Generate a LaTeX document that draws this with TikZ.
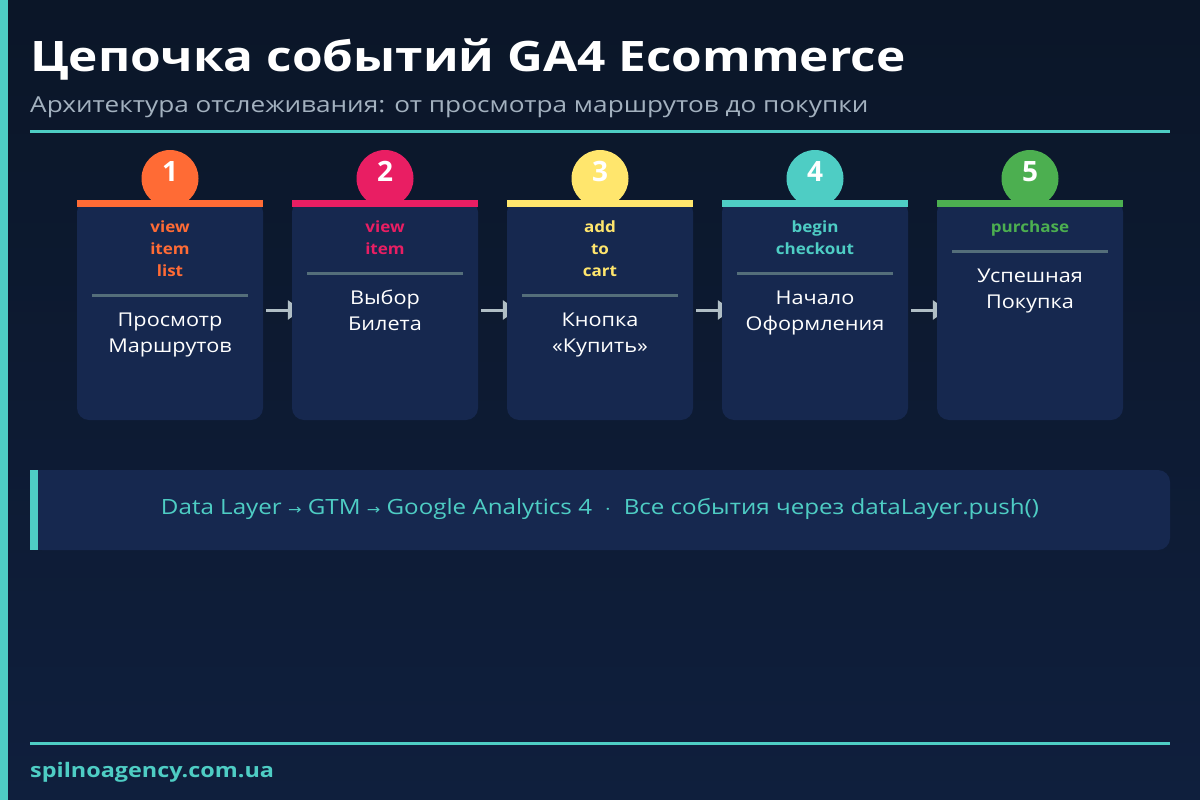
\documentclass[tikz,border=0pt]{standalone}
\usepackage{graphicx}
\usepackage{fontspec}
\setmainfont{Open Sans}
\newfontfamily\symfont{DejaVu Sans}
\usetikzlibrary{arrows.meta}
\definecolor{bgtop}{HTML}{0B1628}
\definecolor{bgbot}{HTML}{0F1F3D}
\definecolor{cardcol}{HTML}{16284F}
\definecolor{tealc}{HTML}{4ECDC4}
\definecolor{orangec}{HTML}{FF6B35}
\definecolor{pinkc}{HTML}{E91E63}
\definecolor{yellowc}{HTML}{FFE66D}
\definecolor{greenc}{HTML}{4CAF50}
\definecolor{subgray}{HTML}{A3B1BF}
\definecolor{sepcol}{HTML}{546E7A}
\definecolor{arrowcol}{HTML}{B0BEC5}
\newcommand\wide[2]{\scalebox{#1}[1]{#2}}
\pgfdeclarelayer{bg}
\pgfdeclarelayer{back}
\pgfsetlayers{bg,back,main}
\tikzset{
  cardbox/.style={rectangle, rounded corners=12pt, fill=cardcol, minimum width=186pt, minimum height=220pt, inner sep=0pt},
  numcirc/.style={circle, minimum size=57pt, inner sep=0pt},
  numtext/.style={anchor=base, inner sep=0pt, text=white, font=\bfseries\fontsize{28}{32}\selectfont},
  evtext/.style={anchor=base, inner sep=0pt, font=\bfseries\fontsize{15.5}{18}\selectfont},
  desctext/.style={anchor=base, inner sep=0pt, text=white, font=\fontsize{19}{22}\selectfont},
  sepline/.style={draw=sepcol, line width=3pt},
  flowarrow/.style={draw=arrowcol, line width=3pt, -{Triangle[length=14pt,width=19pt]}},
}
\newcommand\evcard[5]{%
  \pgfmathsetmacro\cx{170+215*(#1-1)}
  \node[cardbox] (card#1) at (\cx,310) {};
  \node[numcirc, fill=#2] (circ#1) at (\cx,178.5) {};
  \fill[#2] (card#1.north west) rectangle ++(186,7);
  \node[numtext] (num#1) at (\cx,181) {#1};
  \foreach \l [count=\k] in {#4} {\node[evtext, text=#2] (ev#1-\k) at (\cx,{232+22*(\k-1)}) {\wide{1.1}{\l}};}
  \pgfmathsetmacro\sy{251+22*(#3-1)}
  \draw[sepline] (\cx-78,\sy) -- (\cx+78,\sy);
  \foreach \l [count=\k] in {#5} {\node[desctext] (d#1-\k) at (\cx,{\sy+31+26*(\k-1)}) {\wide{1.14}{\l}};}
}
\begin{document}
\begin{tikzpicture}[x=1pt,y=-1pt]
\useasboundingbox (0,0) rectangle (1200,800);
\begin{pgfonlayer}{bg}
\shade[top color=bgtop, bottom color=bgbot] (0,0) rectangle (1200,800);
\fill[tealc] (0,0) rectangle (7.5,800);
\end{pgfonlayer}
\node[anchor=base west, inner sep=0pt, text=white, font=\bfseries\fontsize{42}{50}\selectfont] (title) at (30,72) {\wide{1.18}{Цепочка событий GA4 Ecommerce}};
\node[anchor=base west, inner sep=0pt, text=subgray, font=\fontsize{22}{26}\selectfont] (subtitle) at (30,113) {\wide{1.19}{Архитектура отслеживания: от просмотра маршрутов до покупки}};
\draw[tealc, line width=3pt] (30,131) -- (1170,131);

\evcard{1}{orangec}{3}{view,item,list}{Просмотр,Маршрутов}
\evcard{2}{pinkc}{2}{view,item}{Выбор,Билета}
\evcard{3}{yellowc}{3}{add,to,cart}{Кнопка,«Купить»}
\evcard{4}{tealc}{2}{begin,checkout}{Начало,Оформления}
\evcard{5}{greenc}{1}{purchase}{Успешная,Покупка}

\begin{pgfonlayer}{back}
\foreach \a/\b in {1/2,2/3,3/4,4/5}
  \draw[flowarrow] ([xshift=3pt]card\a.east) -- ([xshift=10pt]card\b.west);
\end{pgfonlayer}

\fill[cardcol, rounded corners=12pt] (30,470) rectangle (1170,550);
\fill[cardcol] (30,470) rectangle (60,550);
\fill[tealc] (30,470) rectangle (38,550);
\node[anchor=base, inner sep=0pt, text=tealc, font=\fontsize{21}{25}\selectfont] (info) at (600,514) {\wide{1.15}{Data Layer {\symfont\fontsize{14}{16}\selectfont →} GTM {\symfont\fontsize{14}{16}\selectfont →} Google Analytics 4 \ $\cdot$\ \ Все события через dataLayer.push()}};

\draw[tealc, line width=3pt] (30,743) -- (1170,743);
\node[anchor=base west, inner sep=0pt, text=tealc, font=\bfseries\fontsize{20}{24}\selectfont] (footer) at (30,777) {\wide{1.17}{spilnoagency.com.ua}};
\end{tikzpicture}
\end{document}
